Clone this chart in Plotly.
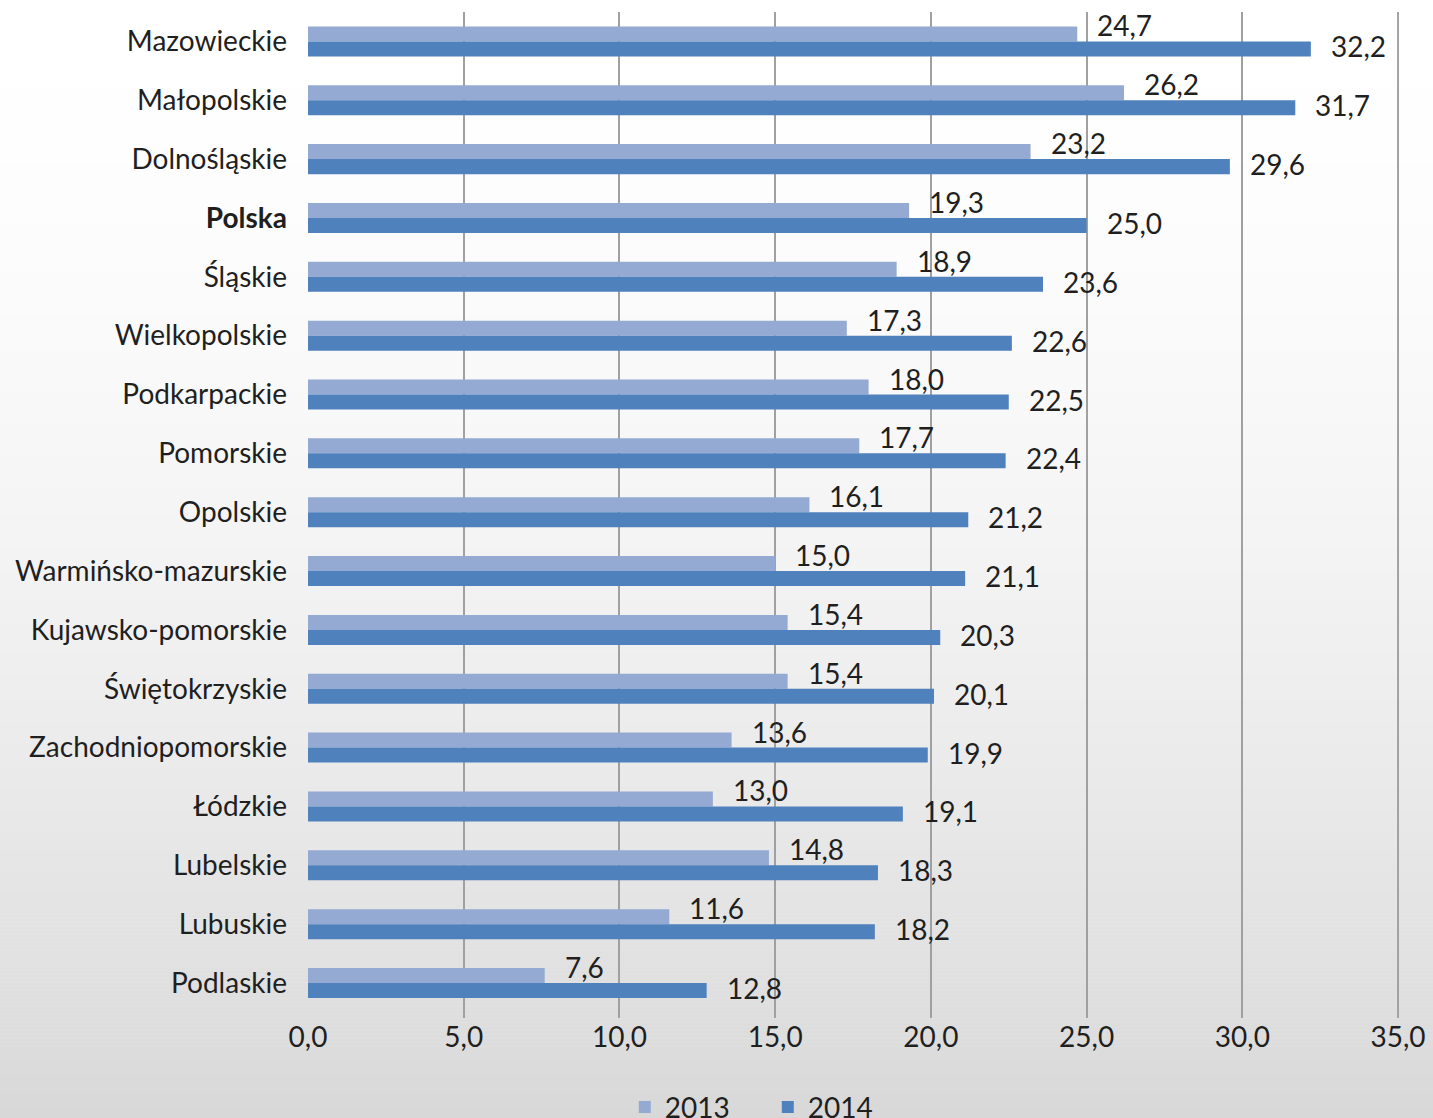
import plotly.graph_objects as go

regions = ["Mazowieckie", "Małopolskie", "Dolnośląskie", "<b>Polska</b>", "Śląskie",
           "Wielkopolskie", "Podkarpackie", "Pomorskie", "Opolskie", "Warmińsko-mazurskie",
           "Kujawsko-pomorskie", "Świętokrzyskie", "Zachodniopomorskie", "Łódzkie",
           "Lubelskie", "Lubuskie", "Podlaskie"]
values_2013 = [24.7, 26.2, 23.2, 19.3, 18.9, 17.3, 18.0, 17.7, 16.1, 15.0,
               15.4, 15.4, 13.6, 13.0, 14.8, 11.6, 7.6]
values_2014 = [32.2, 31.7, 29.6, 25.0, 23.6, 22.6, 22.5, 22.4, 21.2, 21.1,
               20.3, 20.1, 19.9, 19.1, 18.3, 18.2, 12.8]
x_ticks = [0, 5, 10, 15, 20, 25, 30, 35]
x_tick_labels = ["0,0", "5,0", "10,0", "15,0", "20,0", "25,0", "30,0", "35,0"]

FONT = "Lato"
FS = 28
TXT = "#1f1f1f"
GRID = "#A0A0A0"

def fmt(v):
    return f"{v:.1f}".replace(".", ",")

fig = go.Figure()
fig.add_trace(go.Bar(y=regions, x=values_2013, orientation="h", name="2013",
                     marker=dict(color="#95AAD3", line=dict(width=0))))
fig.add_trace(go.Bar(y=regions, x=values_2014, orientation="h", name="2014",
                     marker=dict(color="#4F81BD", line=dict(width=0))))

annotations = []
for r, v in zip(regions, values_2013):
    annotations.append(dict(x=v, y=r, xref="x", yref="y", text=fmt(v), showarrow=False,
                            xanchor="left", yanchor="middle", xshift=18, yshift=16,
                            font=dict(family=FONT, size=FS, color=TXT)))
for r, v in zip(regions, values_2014):
    annotations.append(dict(x=v, y=r, xref="x", yref="y", text=fmt(v), showarrow=False,
                            xanchor="left", yanchor="middle", xshift=18, yshift=-5,
                            font=dict(family=FONT, size=FS, color=TXT)))

# background vertical gradient (style only)
shapes = []
H = 1118
top_m, bot_m = 12, 100
plot_h = H - top_m - bot_m
n = 280
for i in range(n):
    y0px = i * H / n
    y1px = (i + 1) * H / n
    t = (y0px + y1px) / 2 / H
    g = int(round(255 - 39 * t ** 1.7))
    col = f"rgb({g},{g},{g})"
    shapes.append(dict(type="rect", xref="paper", yref="paper", layer="below",
                       x0=-0.4, x1=1.1,
                       y0=(H - bot_m - y1px - 0.5) / plot_h, y1=(H - bot_m - y0px) / plot_h,
                       fillcolor=col, line=dict(width=0)))
# last gridline at the top tick (plotly drops gridlines on the range edge)
shapes.append(dict(type="line", xref="x", yref="paper", layer="below",
                   x0=x_ticks[-1], x1=x_ticks[-1], y0=0, y1=1,
                   line=dict(color=GRID, width=2)))

fig.update_layout(
    width=1433, height=1118,
    margin=dict(l=308, r=34, t=12, b=100, autoexpand=False),
    paper_bgcolor="white",
    plot_bgcolor="rgba(0,0,0,0)",
    barmode="group", bargap=0.49, bargroupgap=0,
    font=dict(family=FONT, size=FS, color=TXT),
    showlegend=True,
    legend=dict(orientation="h", xref="container", yref="container",
                x=0.436, xanchor="left", y=0.032, yanchor="top",
                font=dict(family=FONT, size=FS, color=TXT),
                itemwidth=30, entrywidth=98, entrywidthmode="pixels",
                traceorder="normal", bgcolor="rgba(0,0,0,0)"),
    annotations=annotations,
    shapes=shapes,
)
fig.update_xaxes(range=[0, 35.03], tickvals=x_ticks, ticktext=x_tick_labels,
                 showgrid=True, gridcolor=GRID, gridwidth=2,
                 zeroline=False, showline=False, ticks="", automargin=False,
                 tickfont=dict(family=FONT, size=FS, color=TXT))
fig.update_yaxes(autorange="reversed", showgrid=False, showline=False, ticks="",
                 ticklabelstandoff=20, automargin=False,
                 tickfont=dict(family=FONT, size=FS, color=TXT))

fig.write_html("out.html", config={"displayModeBar": False},
               post_script="document.body.style.margin='0';document.body.style.overflow='hidden';")
